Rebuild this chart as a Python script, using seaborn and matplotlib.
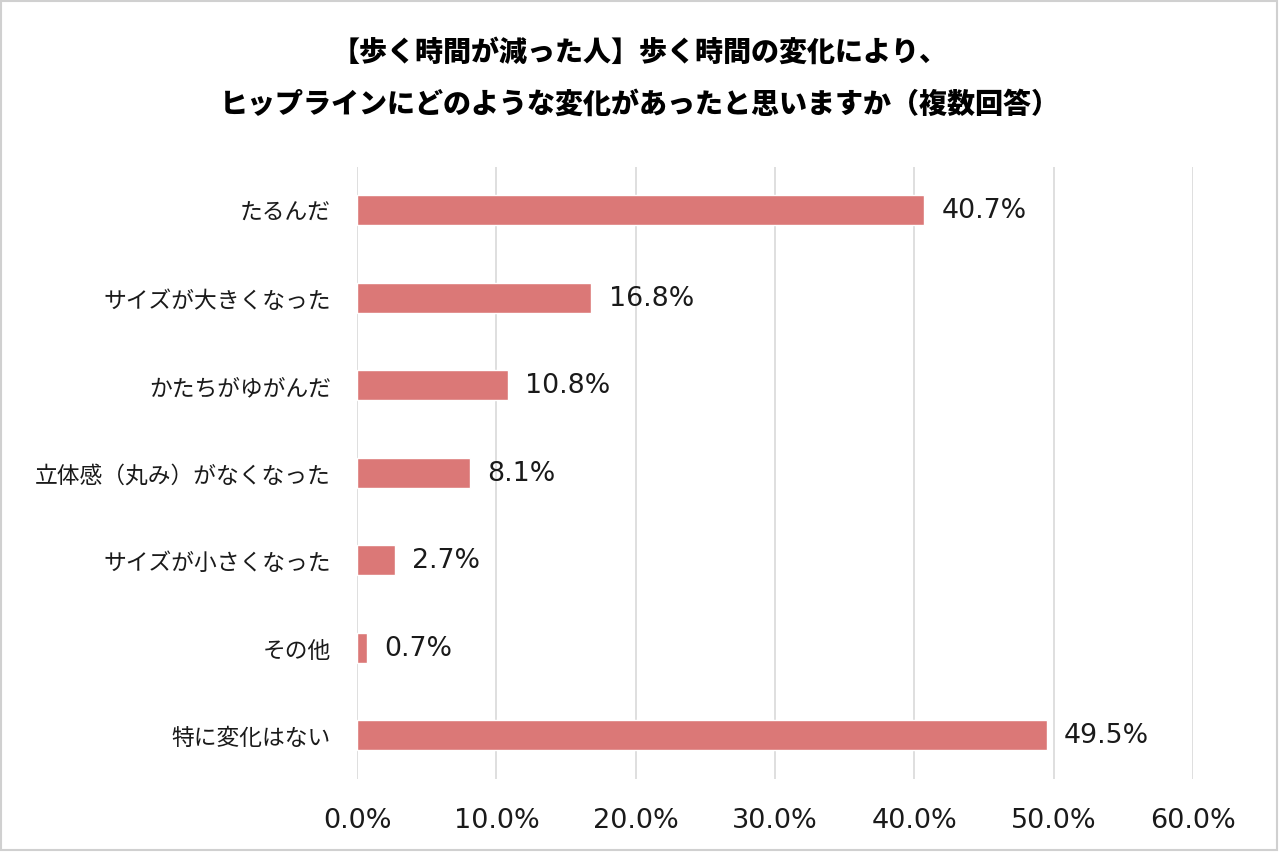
import pandas as pd
import matplotlib.pyplot as plt
import matplotlib.ticker as mticker
import matplotlib.patches as mpatches
import seaborn as sns

# Datos de la gráfica
categorias = ['たるんだ', 'サイズが大きくなった', 'かたちがゆがんだ',
              '立体感（丸み）がなくなった', 'サイズが小さくなった', 'その他', '特に変化はない']
porcentajes = [40.7, 16.8, 10.8, 8.1, 2.7, 0.7, 49.5]
xticks = [0, 10, 20, 30, 40, 50, 60]

titulo_1 = '【歩く時間が減った人】歩く時間の変化により、'
titulo_2 = 'ヒップラインにどのような変化があったと思いますか（複数回答）'

df = pd.DataFrame({'categoria': categorias, 'valor': porcentajes})

sns.set_theme(style='white')
plt.rcParams['font.family'] = ['DejaVu Sans', 'Noto Sans CJK JP']

fig = plt.figure(figsize=(12.8, 8.53), dpi=100)
ax = fig.add_axes([0.279, 0.0856, 0.653, 0.718])

sns.barplot(data=df, x='valor', y='categoria', orient='h',
            color='#DB7877', saturation=1, width=0.34, ax=ax, zorder=3)

# Etiquetas de valor
for i, v in enumerate(porcentajes):
    ax.text(v + 1.25, i, f'{v:.1f}%', va='center', ha='left',
            fontsize=19.3, color='#1a1a1a')

ax.set_xlim(0, 60)
ax.set_xticks(xticks)
ax.xaxis.set_major_formatter(mticker.FuncFormatter(lambda x, _: f'{x:.1f}%'))
ax.grid(axis='x', color='#D9D9D9', linewidth=1.2, zorder=0)
ax.grid(axis='y', visible=False)
for s in ax.spines.values():
    s.set_visible(False)
ax.tick_params(axis='x', length=0, pad=20, labelsize=19.5, labelcolor='#1a1a1a')
ax.tick_params(axis='y', length=0, pad=19, labelsize=16.4, labelcolor='#1a1a1a')
ax.set_xlabel('')
ax.set_ylabel('')

# Título en dos líneas
fig.text(0.5, 1 - 52 / 853, titulo_1, ha='center', va='center', color='black',
         fontsize=20.2, fontweight='heavy', family=['Noto Sans CJK JP'])
fig.text(0.5, 1 - 105 / 853, titulo_2, ha='center', va='center', color='black',
         fontsize=20.2, fontweight='heavy', family=['Noto Sans CJK JP'])

# Borde de la figura
fig.patches.append(mpatches.Rectangle((0.001, 0.002), 0.997, 0.996,
                                      transform=fig.transFigure, fill=False,
                                      edgecolor='#D0D0D0', linewidth=1.5))

plt.savefig('out.png', dpi=100)
